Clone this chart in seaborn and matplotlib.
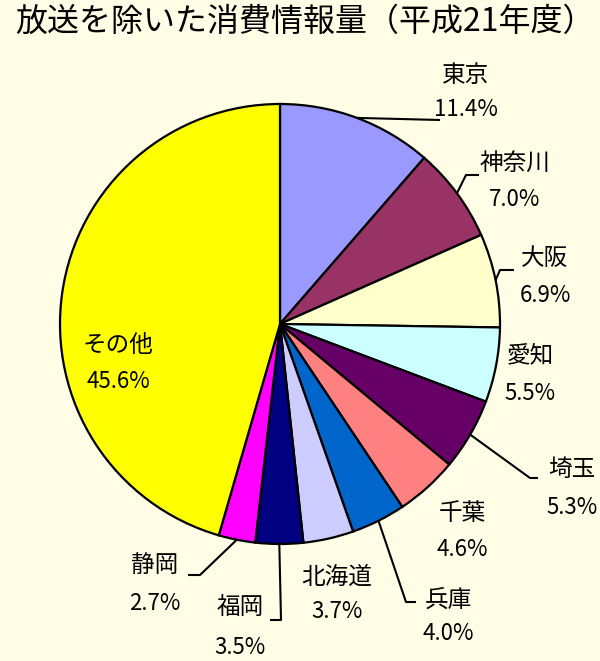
import numpy as np
import matplotlib
matplotlib.use("Agg")
from matplotlib import pyplot as plt
import seaborn as sns

# data
regions = ["東京", "神奈川", "大阪", "愛知", "埼玉", "千葉",
           "兵庫", "北海道", "福岡", "静岡", "その他"]
shares = [11.4, 7.0, 6.9, 5.5, 5.3, 4.6, 4.0, 3.7, 3.5, 2.7, 45.6]
colors = ["#9999FF", "#993366", "#FFFFCC", "#CCFFFF", "#660066", "#FF8080",
          "#0066CC", "#CCCCFF", "#000080", "#FF00FF", "#FFFF00"]
title = "放送を除いた消費情報量（平成21年度）"

####### layout (pixel coordinates, y pointing down) #######
W, H = 600, 661
CX, CY, R = 280, 324, 220
BG = "#FFFDE6"

# label centre: (x, y of name, y of percentage)
label_pos = {
    "東京": (466, 75, 110),
    "神奈川": (515, 163, 200),
    "大阪": (545, 258, 296),
    "愛知": (530, 356, 394),
    "埼玉": (572, 470, 508),
    "千葉": (462, 513, 550),
    "兵庫": (448, 600, 634),
    "北海道": (337, 577, 612),
    "福岡": (240, 607, 648),
    "静岡": (155, 565, 603),
    "その他": (118, 346, 382),
}
# leader lines: points after the wedge edge
leaders = {
    "東京": [(440, 120)],
    "神奈川": [(466, 175), (479, 175)],
    "大阪": [(500, 270), (514, 270)],
    "埼玉": [(530, 478), (538, 478)],
    "兵庫": [(406, 602), (416, 602)],
    "福岡": [(281, 620), (270, 620)],
    "静岡": [(200, 575), (188, 575)],
}

sns.set_theme(style="white")
plt.rcParams["font.family"] = ["Noto Sans CJK JP", "DejaVu Sans"]

fig = plt.figure(figsize=(W / 100, H / 100), dpi=100, facecolor=BG)
ax = fig.add_axes([0, 0, 1, 1])
ax.set_facecolor(BG)

wedges, _ = ax.pie(shares, colors=sns.color_palette(colors), center=(CX, CY),
                   radius=R, startangle=-90, counterclock=True,
                   wedgeprops=dict(edgecolor="black", linewidth=1.6))
ax.set_xlim(0, W)
ax.set_ylim(H, 0)
ax.set_aspect("equal")
ax.axis("off")

for name, share, w in zip(regions, shares, wedges):
    lx, ny, py = label_pos[name]
    ax.text(lx, ny, name, ha="center", va="center", fontsize=17, color="black")
    ax.text(lx, py, f"{share:.1f}%", ha="center", va="center", fontsize=16,
            color="black")
    if name in leaders:
        mid = np.deg2rad((w.theta1 + w.theta2) / 2)
        pts = [(CX + R * np.cos(mid), CY + R * np.sin(mid))] + leaders[name]
        xs, ys = zip(*pts)
        ax.plot(xs, ys, color="black", linewidth=1.5, solid_capstyle="butt")

fig.text(15 / W, 1 - 22 / H, title, ha="left", va="center", fontsize=23,
         color="black")

fig.savefig("out.png", dpi=100, facecolor=BG)
